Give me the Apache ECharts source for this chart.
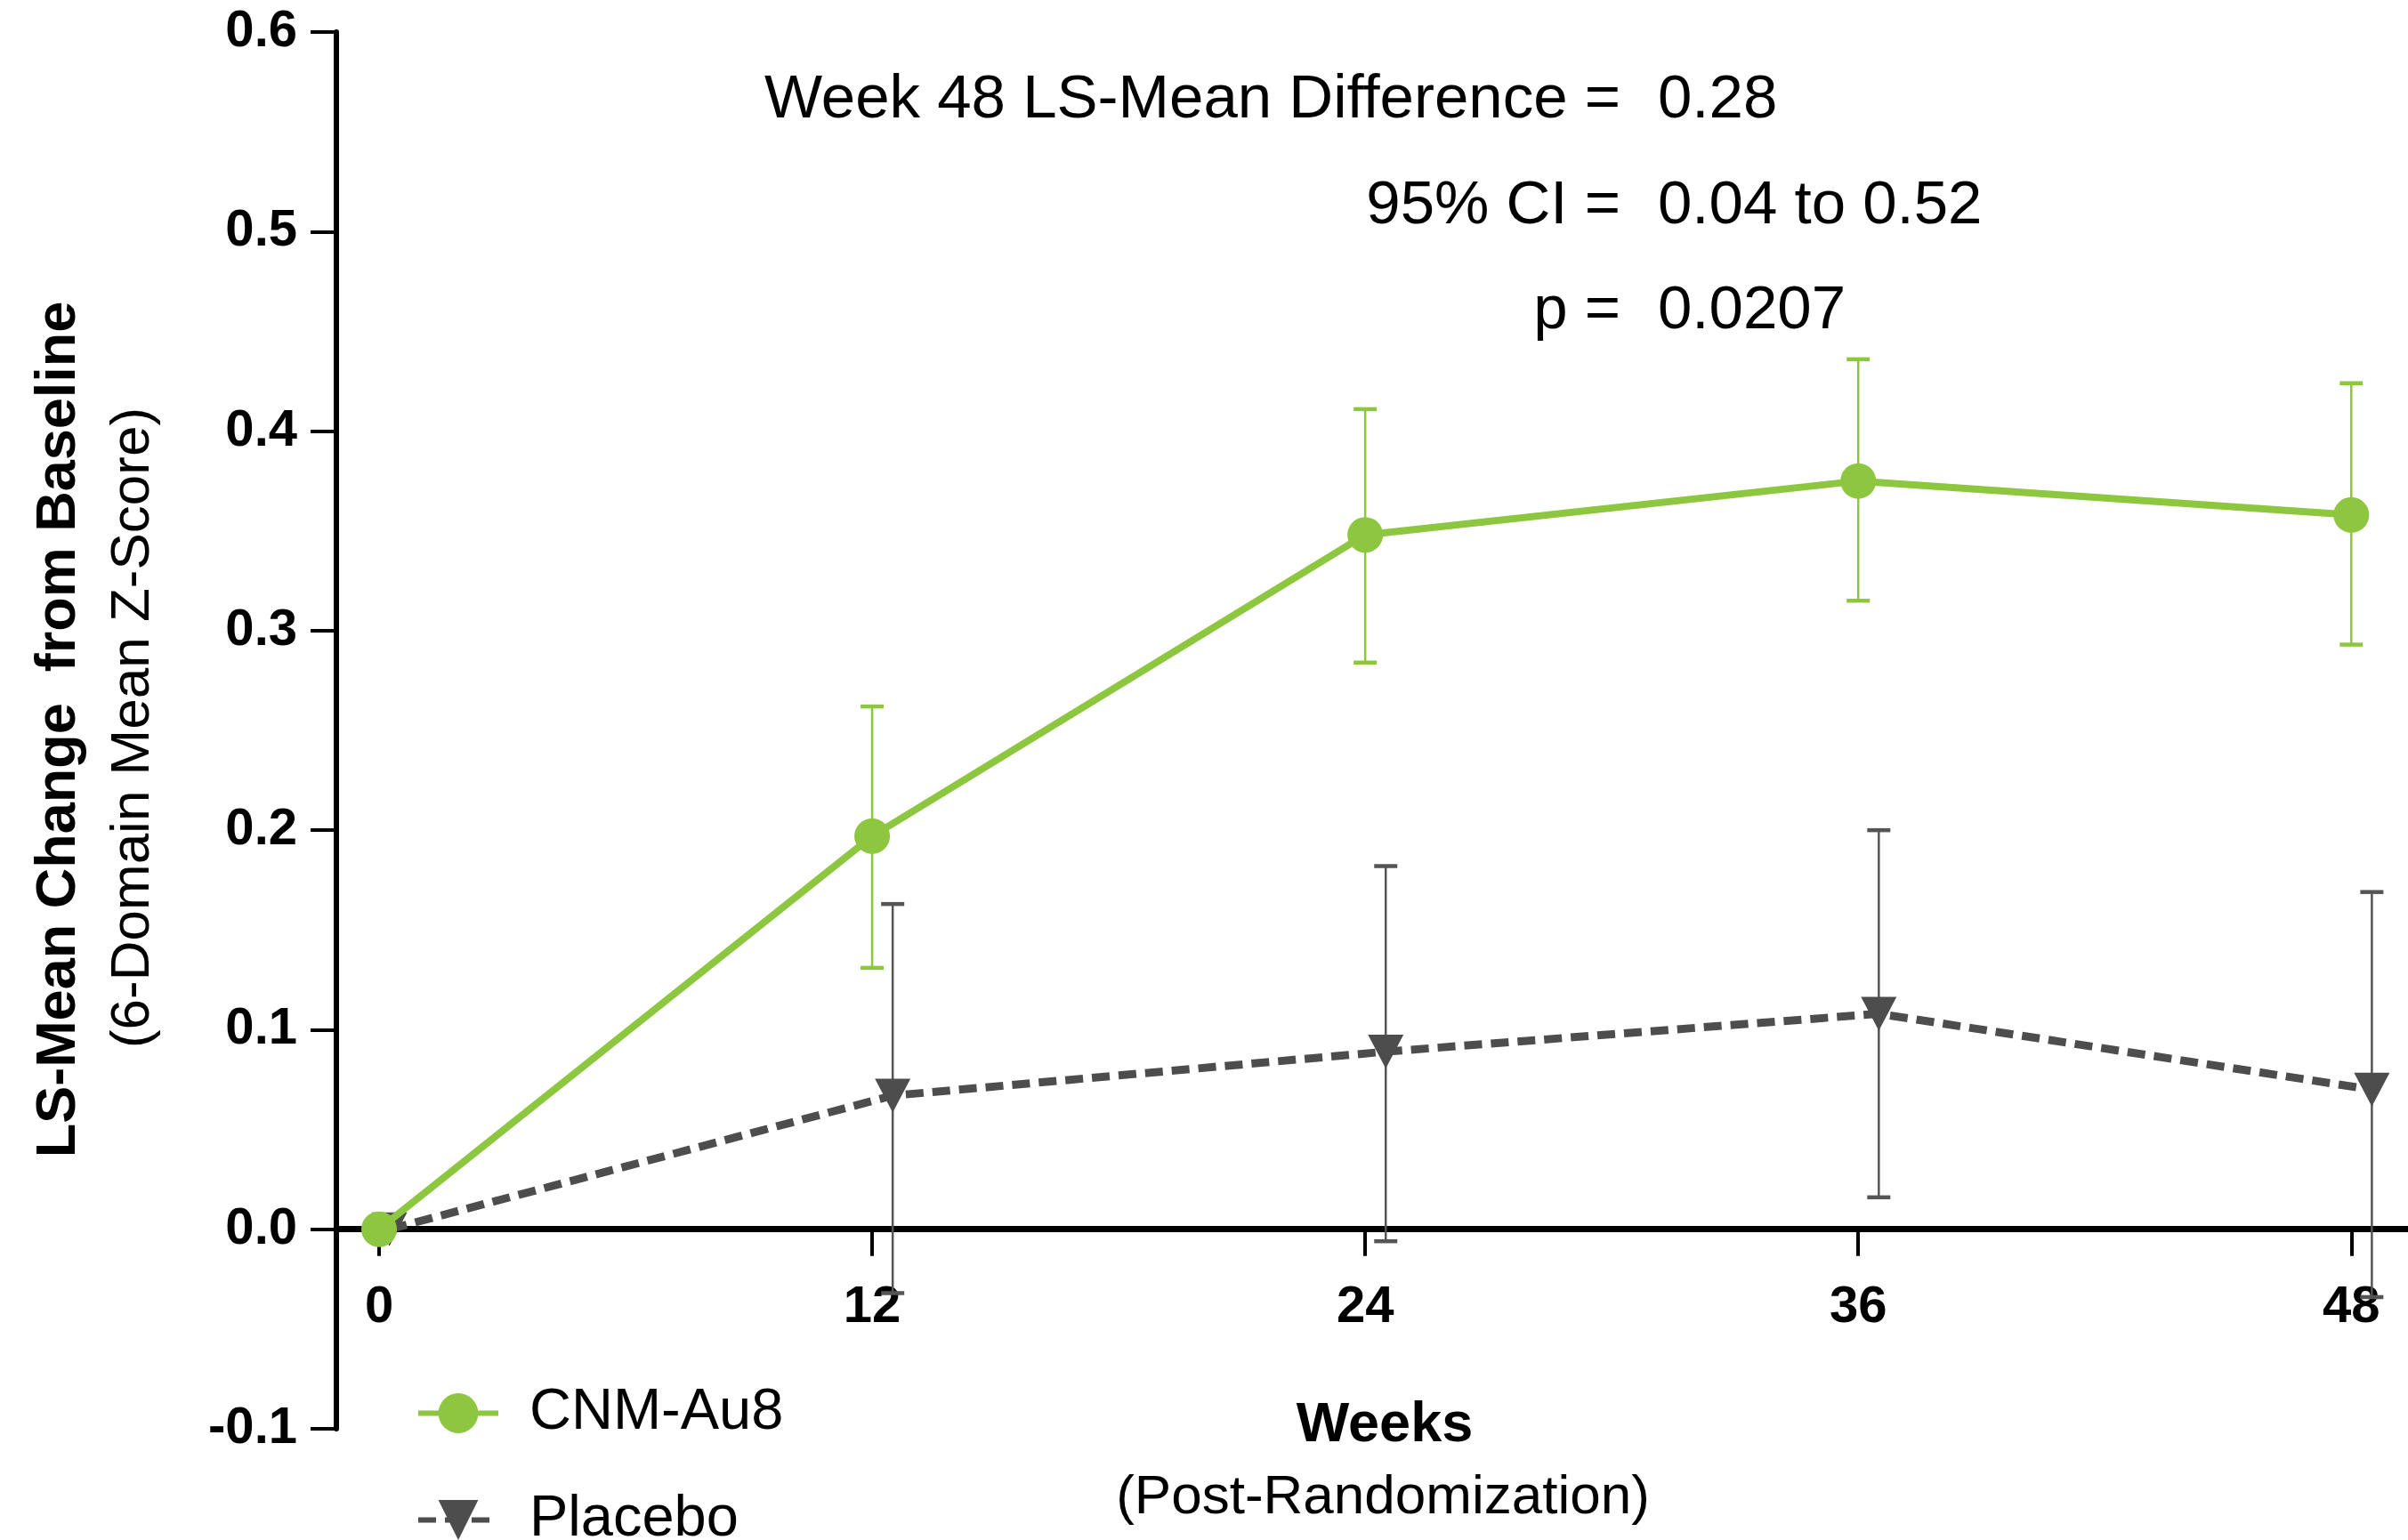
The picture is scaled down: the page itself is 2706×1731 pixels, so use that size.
<!DOCTYPE html>
<html>
<head>
<meta charset="utf-8">
<script src="https://cdn.jsdelivr.net/npm/echarts@6/dist/echarts.min.js"></script>
<style>html,body{margin:0;padding:0;background:#fff;}#c{width:2706px;height:1731px;}</style>
</head>
<body>
<div id="c"></div>
<script>
// ---- data ----
var weeks = [0, 12, 24, 36, 48];
var xTicks = [0, 12, 24, 36, 48];
var cnmMean = [0, 0.197, 0.348, 0.375, 0.358];
var cnmLow  = [null, 0.131, 0.284, 0.315, 0.293];
var cnmHigh = [null, 0.262, 0.411, 0.436, 0.424];
var placeboWeeks = [0.25, 12.5, 24.5, 36.5, 48.5];
var placeboMean = [0, 0.067, 0.089, 0.108, 0.070];
var placeboLow  = [null, -0.032, -0.006, 0.016, -0.034];
var placeboHigh = [null, 0.163, 0.182, 0.200, 0.169];
var annoLabels = ['Week 48 LS-Mean Difference =', '95% CI =', 'p ='];
var annoValues = ['0.28', '0.04 to 0.52', '0.0207'];

var GREEN = '#8DC63F';
var GREY = '#4D4D4D';
var FONT = '"Liberation Sans", Arial, Helvetica, sans-serif';

function pairs(xs, ys) { return xs.map(function (x, i) { return [x, ys[i]]; }); }
function bars(xs, lo, hi) {
  var out = [];
  xs.forEach(function (x, i) { if (lo[i] != null) out.push([x, lo[i], hi[i]]); });
  return out;
}
function errRender(color) {
  return function (params, api) {
    var x = api.value(0);
    var a = api.coord([x, api.value(1)]);
    var b = api.coord([x, api.value(2)]);
    var h = 13;
    var st = { stroke: color, lineWidth: 2.5 };
    var cap = { stroke: color, lineWidth: 4.5 };
    return { type: 'group', children: [
      { type: 'line', shape: { x1: a[0], y1: a[1], x2: b[0], y2: b[1] }, style: st },
      { type: 'line', shape: { x1: a[0] - h, y1: a[1], x2: a[0] + h, y2: a[1] }, style: cap },
      { type: 'line', shape: { x1: b[0] - h, y1: b[1], x2: b[0] + h, y2: b[1] }, style: cap }
    ]};
  };
}

var graphics = [];
var annoY = [113, 232, 350];
annoLabels.forEach(function (t, i) {
  graphics.push({ type: 'text', x: 1821, y: annoY[i], style: { text: t, fontFamily: FONT, fontSize: 69, fill: '#000', textAlign: 'right', textVerticalAlign: 'middle' } });
  graphics.push({ type: 'text', x: 1863, y: annoY[i], style: { text: annoValues[i], fontFamily: FONT, fontSize: 69, fill: '#000', textAlign: 'left', textVerticalAlign: 'middle' } });
});
graphics.push({ type: 'text', x: 1556, y: 1603, style: { text: 'Weeks', fontFamily: FONT, fontSize: 63, fontWeight: 'bold', fill: '#000', textAlign: 'center', textVerticalAlign: 'middle' } });
graphics.push({ type: 'text', x: 1554, y: 1684, style: { text: '(Post-Randomization)', fontFamily: FONT, fontSize: 62, fill: '#000', textAlign: 'center', textVerticalAlign: 'middle' } });
graphics.push({ type: 'text', x: 67, y: 820, rotation: Math.PI / 2, style: { text: 'LS-Mean Change  from Baseline', fontFamily: FONT, fontSize: 63, fontWeight: 'bold', fill: '#000', textAlign: 'center', textVerticalAlign: 'middle' } });
graphics.push({ type: 'text', x: 150, y: 818, rotation: Math.PI / 2, style: { text: '(6-Domain Mean Z-Score)', fontFamily: FONT, fontSize: 62, fill: '#000', textAlign: 'center', textVerticalAlign: 'middle' } });

function legendFor(name, top) {
  return {
    orient: 'vertical', left: 462, top: top,
    itemWidth: 90, itemHeight: 56,
    data: [name],
    lineStyle: { width: 6 },
    textStyle: { fontFamily: FONT, fontSize: 65, color: '#000', padding: [0, 0, 0, 30] }
  };
}

var chart = echarts.init(document.getElementById('c'));
chart.setOption({
  backgroundColor: '#fff',
  animation: false,
  grid: { left: 378, right: 0, top: 36, bottom: 125, containLabel: false },
  xAxis: {
    type: 'value', min: -1.04, max: 49.38,
    axisLine: { onZero: true, lineStyle: { color: '#000', width: 7 } },
    axisTick: { show: true, length: 30, lineStyle: { color: '#000', width: 4 }, customValues: xTicks },
    axisLabel: { customValues: xTicks, fontFamily: FONT, fontSize: 58, fontWeight: 'bold', color: '#000', margin: -165 },
    splitLine: { show: false }
  },
  yAxis: {
    type: 'value', min: -0.1, max: 0.6, interval: 0.1,
    axisLine: { show: true, onZero: false, lineStyle: { color: '#000', width: 6 } },
    axisTick: { show: true, length: 29, lineStyle: { color: '#000', width: 4 } },
    axisLabel: { fontFamily: FONT, fontSize: 58, fontWeight: 'bold', color: '#000', margin: 44,
      formatter: function (v) { return v.toFixed(1); } },
    splitLine: { show: false }
  },
  legend: [legendFor('CNM-Au8', 1551), legendFor('Placebo', 1671)],
  graphic: graphics,
  series: [
    { name: 'PlaceboErr', type: 'custom', renderItem: errRender('#555555'), data: bars(placeboWeeks, placeboLow, placeboHigh), encode: { x: 0, y: [1, 2] }, z: 2, silent: true },
    { name: 'CNMErr', type: 'custom', renderItem: errRender(GREEN), data: bars(weeks, cnmLow, cnmHigh), encode: { x: 0, y: [1, 2] }, z: 2, silent: true },
    { name: 'Placebo', type: 'line', data: pairs(placeboWeeks, placeboMean), symbol: 'triangle', symbolRotate: 180, symbolSize: [40, 38],
      itemStyle: { color: GREY }, lineStyle: { color: GREY, width: 9, type: [20, 10] }, z: 3 },
    { name: 'CNM-Au8', type: 'line', data: pairs(weeks, cnmMean), symbol: 'circle', symbolSize: 40,
      itemStyle: { color: GREEN }, lineStyle: { color: GREEN, width: 8 }, z: 4 }
  ]
});
</script>
</body>
</html>
